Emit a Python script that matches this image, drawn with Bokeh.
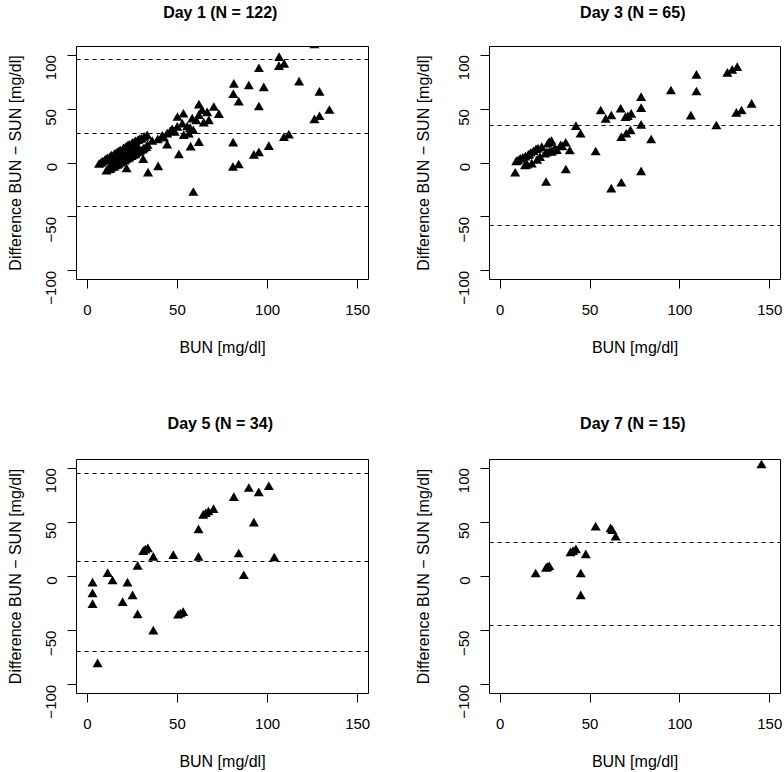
import math
from bokeh.plotting import figure
from bokeh.layouts import column, row
from bokeh.models import Range1d, FixedTicker, Title
from bokeh.embed import file_html
from bokeh.resources import INLINE

x_ticks = [0, 50, 100, 150]
y_ticks = [-100, -50, 0, 50, 100]
y_tick_labels = {-100: "\u2212100", -50: "\u221250", 0: "0", 50: "50", 100: "100"}

titles = ["Day  1 (N = 122)", "Day  3 (N = 65)", "Day  5 (N = 34)", "Day  7 (N = 15)"]
x_label = "BUN [mg/dl]"
y_label = "Difference BUN \u2212 SUN [mg/dl]"

day1_bun = [126, 106.4, 106.3, 109.2, 95.2, 81.3, 89.6, 97.9, 117.5, 128.8, 81, 84, 95.2, 134.3, 128.8, 126,
            111.8, 109.1, 100.7, 95.2, 92.4, 80.9, 84, 80.8,
            73, 70.2, 66.5, 67.4, 64.6, 61.9, 61.9, 58.2, 58.8, 61.9, 57.3, 53.3, 50, 52.7, 55.4, 53.5, 56.3,
            49.9, 47.1, 44.3, 41.6, 39.1, 44.3, 50.8, 39.3, 33.7, 58.8, 63.7, 60.5, 57, 48.5, 46, 42.5, 36,
            6.5, 7.6, 8.4, 9.6, 10.2, 11.1, 11.9, 12.7, 13.4, 14.6, 15.2, 16.1, 16.9, 17.6, 18.4, 19.7, 20.1,
            21.2, 21.9, 22.6, 23.4, 24.7, 25.1, 26.2, 26.8, 28.1, 29.2, 30.1, 31.6, 33.2,
            10.6, 11.4, 12.6, 13.3, 14.7, 15.4, 16.6, 17.3, 18.6, 19.4, 20.7, 21.4, 22.6, 23.3, 24.6, 25.3,
            26.7, 27.4, 28.7, 29.3, 30.6, 31.4, 32.7, 33.4,
            14, 16, 18, 20, 22, 24, 26, 28, 21.8, 31]
day1_diff = [109, 97.3, 89, 91, 87, 72.5, 71, 69.3, 74.5, 65, 63, 56, 51.5, 48.3, 42.5, 39.5,
             25.5, 23, 14.8, 9, 6.6, 18, -2.3, -4.6,
             44.5, 51, 46, 38.7, 36.5, 53.2, 43.5, 40.3, 29.5, 18.5, 14.3, 44.8, 41.8, 35.5, 33, 25, 26.4,
             32.6, 30.4, 26.4, 24.3, 21.1, 16.2, 7, -4, -9.8, -27.8, 48, 38.5, 31.5, 28, 28.5, 22.5, 19.5,
             -1.8, -0.7, 0.4, 1.3, 2.2, 3.4, 3.1, 4.8, 5.9, 6.2, 7.4, 8.3, 8.8, 10.2, 10.6, 11.3, 12.8,
             13.7, 14.1, 15.6, 15.9, 16.8, 17.7, 18.6, 19.3, 20.4, 21.3, 21.8, 23.4, 24.7,
             -8.1, -6.8, -6.6, -5.2, -4.4, -3.3, -2.7, -1.8, -0.6, 0.7, 1.2, 2.4, 3.3, 4.2, 5.4, 6.7,
             7.1, 8.6, 9.4, 10.3, 11.4, 12.7, 13.8, 15.8,
             0, 2, 4, 5.5, 8, 10, 12, 14, -6, 2.6]
day1_limits = [95.7, 27.4, -40.5]

day3_bun = [8.3, 8.9, 11.1, 13.8, 14, 15.5, 17, 17.5, 19.9, 21, 22.1, 23.1, 24.9, 25.5, 26, 27.3, 28.5,
            28.4, 30.4, 31.5, 33.6, 36.4, 38.7, 36.5, 42.1, 44.7,
            53.1, 55.9, 58.7, 61.8, 61.8, 67, 67.4, 67.4, 69.7, 70.1, 72.5, 72.9, 78.4, 78.4, 78.4, 78.4,
            84, 95, 106.1, 109.2, 109.2, 120.3, 126.4, 129.1, 131.9, 131.4, 134.3, 139.9,
            10, 12.5, 16, 18.5, 20.5, 26.5, 29.5, 34.5, 71, 27.5, 15]
day3_diff = [-9.9, 0.6, 3.1, -3.1, 5, 6.5, 8.6, -1.5, 11.7, 12.5, 4.6, 13.9, 7.7, -18.5, 9, 18.5, 19.5,
             9.3, 12.3, 11, 15.4, 17.9, 10.7, -6.9, 33.3, 26.2,
             9.8, 47.8, 40.1, 43.2, -24.7, 49.4, 23.1, -19.2, 41.7, 26.2, 29.3, 44.7, 60.2, 50, 34.5, -8.7,
             20.9, 66.3, 43.1, 80.8, 65.4, 33.9, 82.7, 85.5, 88, 45.6, 47.8, 54,
             1.5, 4, 7, 10, 2, 17, 10.5, 14.5, 42.5, 9.8, -2.5]
day3_limits = [127.0, 34.7, -57.6]

day5_bun = [2.9, 2.9, 2.9, 5.7, 11.3, 14, 19.6, 22.3, 25.1, 27.9, 27.9, 31, 33.6, 36.6, 36.6, 47.7,
            50.4, 53.2, 61.7, 61.7, 64.3, 67.2, 70, 81.3, 84, 86.8, 89.6, 92.4, 95.1, 100.7, 103.7,
            65.7, 32.2, 51.7]
day5_diff = [-6.5, -16.4, -26.3, -81, 2.2, -4.6, -24.5, -6.5, -18.3, 9, -35.9, 22.6, 25.1, 17.3, -50.8,
             18.9, -36.2, -33.7, 42.7, 17.3, 56, 59.1, 61.3, 72.4, 20.4, 0.3, 80.8, 48.9, 76.8, 82.4, 16.7,
             57.5, 24, -35]
day5_limits = [95.0, 13.6, -69.0]

day7_bun = [19.7, 25.5, 27.3, 39.1, 42.1, 47.6, 44.8, 44.8, 53.1, 61.4, 64.2, 145.4, 26.3, 40.5, 62.3]
day7_diff = [1.9, 7.1, 8.6, 21.4, 24.1, 19.5, 1.9, -18.3, 45.2, 43.6, 35.9, 102.5, 7.8, 22.5, 42]
day7_limits = [107.6, 31.8, -44.9]

FONT = "Liberation Sans"


def make_panel(title, bun, diff, limits, width, height, left, right, top, bottom, gap, ylab_standoff):
    p = figure(width=width, height=height, output_backend="svg", toolbar_location=None,
               x_range=Range1d(-6, 156), y_range=Range1d(-108, 108),
               min_border_left=left, min_border_right=right,
               min_border_top=top, min_border_bottom=bottom)
    # spacer between the frame and the title
    p.add_layout(Title(text=" ", text_font_size="10px", standoff=gap), "above")
    p.add_layout(Title(text=title, align="center", text_font=FONT, text_font_size="16px",
                       text_font_style="bold", text_color="black", standoff=0), "above")
    p.grid.visible = False
    p.outline_line_color = "black"
    p.outline_line_width = 1
    p.outline_line_alpha = 1
    p.background_fill_color = "white"
    p.border_fill_color = "white"

    xa = p.xaxis[0]
    xa.ticker = FixedTicker(ticks=x_ticks)
    xa.axis_label = x_label
    ya = p.yaxis[0]
    ya.ticker = FixedTicker(ticks=y_ticks)
    ya.major_label_overrides = y_tick_labels
    ya.axis_label = y_label
    ya.major_label_orientation = math.pi / 2
    for ax in (xa, ya):
        ax.axis_line_color = None
        ax.major_tick_in = 0
        ax.major_tick_out = 9
        ax.major_tick_line_color = "black"
        ax.minor_tick_line_color = None
        ax.major_label_text_font = FONT
        ax.major_label_text_font_size = "15px"
        ax.major_label_text_color = "black"
        ax.axis_label_text_font = FONT
        ax.axis_label_text_font_size = "16px"
        ax.axis_label_text_font_style = "normal"
        ax.axis_label_text_color = "black"
    xa.major_label_standoff = 16
    xa.axis_label_standoff = 21
    ya.major_label_standoff = 16
    ya.axis_label_standoff = ylab_standoff

    p.hspan(y=limits, line_color="black", line_width=1, line_dash="4 4")
    p.scatter(bun, diff, marker="triangle", size=10, fill_color="black", line_color=None)
    return p


p1 = make_panel(titles[0], day1_bun, day1_diff, day1_limits, 392, 386, 76, 24, 46, 107, 13, 15)
p2 = make_panel(titles[1], day3_bun, day3_diff, day3_limits, 392, 386, 97, 4, 46, 107, 13, 20)
p3 = make_panel(titles[2], day5_bun, day5_diff, day5_limits, 392, 386, 76, 24, 73, 79, 15, 15)
p4 = make_panel(titles[3], day7_bun, day7_diff, day7_limits, 392, 386, 97, 4, 73, 79, 15, 20)

layout = column(row(p1, p2), row(p3, p4))
open("out.html", "w").write(file_html(layout, INLINE))
